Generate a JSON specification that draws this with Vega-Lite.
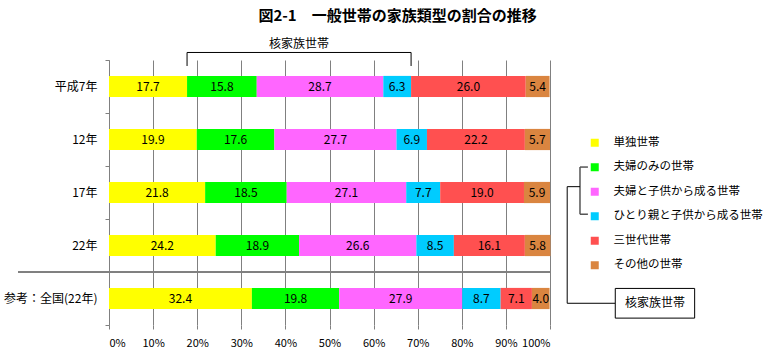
{
  "$schema": "https://vega.github.io/schema/vega-lite/v6.json",
  "width": 441,
  "height": 265,
  "autosize": {"type": "none"},
  "padding": {"left": 109, "top": 60, "right": 220, "bottom": 35},
  "background": "white",
  "title": {
    "text": "図2-1　一般世帯の家族類型の割合の推移",
    "font": "Noto Sans CJK JP",
    "fontSize": 15,
    "fontWeight": "bold",
    "color": "black",
    "anchor": "middle",
    "dx": 68,
    "offset": 14
  },
  "config": {"view": {"stroke": null}, "font": "Noto Sans CJK JP"},
  "datasets": {
    "shares": [
      {"year": "平成7年", "type": "単独世帯", "k": 1, "v": 17.7},
      {"year": "平成7年", "type": "夫婦のみの世帯", "k": 2, "v": 15.8},
      {"year": "平成7年", "type": "夫婦と子供から成る世帯", "k": 3, "v": 28.7},
      {"year": "平成7年", "type": "ひとり親と子供から成る世帯", "k": 4, "v": 6.3},
      {"year": "平成7年", "type": "三世代世帯", "k": 5, "v": 26.0},
      {"year": "平成7年", "type": "その他の世帯", "k": 6, "v": 5.4},
      {"year": "12年", "type": "単独世帯", "k": 1, "v": 19.9},
      {"year": "12年", "type": "夫婦のみの世帯", "k": 2, "v": 17.6},
      {"year": "12年", "type": "夫婦と子供から成る世帯", "k": 3, "v": 27.7},
      {"year": "12年", "type": "ひとり親と子供から成る世帯", "k": 4, "v": 6.9},
      {"year": "12年", "type": "三世代世帯", "k": 5, "v": 22.2},
      {"year": "12年", "type": "その他の世帯", "k": 6, "v": 5.7},
      {"year": "17年", "type": "単独世帯", "k": 1, "v": 21.8},
      {"year": "17年", "type": "夫婦のみの世帯", "k": 2, "v": 18.5},
      {"year": "17年", "type": "夫婦と子供から成る世帯", "k": 3, "v": 27.1},
      {"year": "17年", "type": "ひとり親と子供から成る世帯", "k": 4, "v": 7.7},
      {"year": "17年", "type": "三世代世帯", "k": 5, "v": 19.0},
      {"year": "17年", "type": "その他の世帯", "k": 6, "v": 5.9},
      {"year": "22年", "type": "単独世帯", "k": 1, "v": 24.2},
      {"year": "22年", "type": "夫婦のみの世帯", "k": 2, "v": 18.9},
      {"year": "22年", "type": "夫婦と子供から成る世帯", "k": 3, "v": 26.6},
      {"year": "22年", "type": "ひとり親と子供から成る世帯", "k": 4, "v": 8.5},
      {"year": "22年", "type": "三世代世帯", "k": 5, "v": 16.1},
      {"year": "22年", "type": "その他の世帯", "k": 6, "v": 5.8},
      {"year": "参考：全国(22年)", "type": "単独世帯", "k": 1, "v": 32.4},
      {"year": "参考：全国(22年)", "type": "夫婦のみの世帯", "k": 2, "v": 19.8},
      {"year": "参考：全国(22年)", "type": "夫婦と子供から成る世帯", "k": 3, "v": 27.9},
      {"year": "参考：全国(22年)", "type": "ひとり親と子供から成る世帯", "k": 4, "v": 8.7},
      {"year": "参考：全国(22年)", "type": "三世代世帯", "k": 5, "v": 7.1},
      {"year": "参考：全国(22年)", "type": "その他の世帯", "k": 6, "v": 4.0}
    ]
  },
  "layer": [
    {
      "data": {"name": "shares"},
      "layer": [
        {
          "transform": [
            {"stack": "v", "groupby": ["year"], "sort": [{"field": "k", "order": "ascending"}], "as": ["v0", "v1"]}
          ],
          "mark": {"type": "bar", "height": {"band": 0.4}},
          "encoding": {
            "y": {
              "field": "year", "type": "nominal", "title": null,
              "sort": ["平成7年", "12年", "17年", "22年", "参考：全国(22年)"],
              "scale": {"paddingInner": 0, "paddingOuter": 0},
              "axis": {
                "domainColor": "#808080", "tickColor": "#808080", "tickSize": 4,
                "tickBand": "extent", "labelFontSize": 12, "labelColor": "black",
                "labelPadding": 8, "labelFont": "Noto Sans CJK JP", "grid": false
              }
            },
            "x": {
              "field": "v0", "type": "quantitative", "title": null,
              "scale": {"domain": [0, 100], "nice": false},
              "axis": {
                "values": [0, 10, 20, 30, 40, 50, 60, 70, 80, 90, 100],
                "labelExpr": "datum.value + '%'",
                "grid": true, "gridColor": "#808080", "gridWidth": 1,
                "domain": false, "tickColor": "#808080", "tickSize": 4,
                "labelFontSize": 11, "labelColor": "black", "labelPadding": 8,
                "labelFont": "Noto Sans CJK JP"
              }
            },
            "x2": {"field": "v1"},
            "color": {
              "field": "type", "type": "nominal",
              "scale": {
                "domain": ["単独世帯", "夫婦のみの世帯", "夫婦と子供から成る世帯", "ひとり親と子供から成る世帯", "三世代世帯", "その他の世帯"],
                "range": ["#FFFF00", "#00FF00", "#FF66FF", "#00CCFF", "#FF5050", "#DA8540"]
              },
              "legend": {
                "orient": "none", "legendX": 480, "legendY": 77, "title": null,
                "symbolType": "square", "symbolSize": 64, "symbolStrokeWidth": 0,
                "labelFontSize": 11.5, "labelFont": "Noto Sans CJK JP", "labelColor": "black",
                "rowPadding": 11.5, "labelOffset": 13, "labelLimit": 220, "padding": 0
              }
            }
          }
        },
        {
          "transform": [
            {"stack": "v", "groupby": ["year"], "sort": [{"field": "k", "order": "ascending"}], "as": ["v0", "v1"]},
            {"fold": ["v0", "v1"], "as": ["side", "pos"]},
            {"aggregate": [{"op": "mean", "field": "pos", "as": "mid"}], "groupby": ["year", "type", "k", "v"]}
          ],
          "mark": {"type": "text", "fontSize": 12, "color": "black", "font": "Noto Sans CJK JP"},
          "encoding": {
            "y": {"field": "year", "type": "nominal", "title": null, "sort": ["平成7年", "12年", "17年", "22年", "参考：全国(22年)"]},
            "x": {"field": "mid", "type": "quantitative", "title": null, "scale": {"domain": [0, 100], "nice": false}},
            "text": {"field": "v", "type": "quantitative", "format": ".1f"}
          }
        },
        {
          "mark": {"type": "rule", "color": "#808080", "strokeWidth": 1},
          "encoding": {
            "y": {"datum": "参考：全国(22年)", "type": "nominal", "bandPosition": 0, "title": null},
            "x": {"datum": -20.6, "type": "quantitative", "title": null},
            "x2": {"datum": 100}
          }
        }
      ]
    },
    {
      "data": {"values": [{}]},
      "layer": [
        {
          "mark": {"type": "rule", "color": "black", "strokeWidth": 1},
          "encoding": {
            "x": {"datum": 17.7, "type": "quantitative", "title": null},
            "x2": {"datum": 68.5},
            "y": {"datum": -0.142, "type": "quantitative", "title": null, "axis": null, "scale": {"domain": [0, 5], "reverse": true, "nice": false, "zero": false}}
          }
        },
        {
          "mark": {"type": "rule", "color": "black", "strokeWidth": 1},
          "encoding": {
            "x": {"datum": 17.7, "type": "quantitative", "title": null},
            "y": {"datum": -0.142, "type": "quantitative", "title": null, "axis": null},
            "y2": {"datum": 0.113}
          }
        },
        {
          "mark": {"type": "rule", "color": "black", "strokeWidth": 1},
          "encoding": {
            "x": {"datum": 68.5, "type": "quantitative", "title": null},
            "y": {"datum": -0.142, "type": "quantitative", "title": null, "axis": null},
            "y2": {"datum": 0.113}
          }
        },
        {
          "mark": {"type": "text", "fontSize": 12, "color": "black", "font": "Noto Sans CJK JP", "text": "核家族世帯"},
          "encoding": {
            "x": {"datum": 43.1, "type": "quantitative", "title": null},
            "y": {"datum": -0.31, "type": "quantitative", "title": null, "axis": null}
          }
        },
        {
          "mark": {"type": "rule", "color": "#555555", "strokeWidth": 1.5},
          "encoding": {
            "x": {"datum": 106.8, "type": "quantitative", "title": null},
            "y": {"datum": 2.02, "type": "quantitative", "title": null, "axis": null},
            "y2": {"datum": 2.91}
          }
        },
        {
          "mark": {"type": "rule", "color": "#555555", "strokeWidth": 1.5},
          "encoding": {
            "x": {"datum": 106.8, "type": "quantitative", "title": null},
            "x2": {"datum": 108.6},
            "y": {"datum": 2.02, "type": "quantitative", "title": null, "axis": null}
          }
        },
        {
          "mark": {"type": "rule", "color": "#555555", "strokeWidth": 1.5},
          "encoding": {
            "x": {"datum": 106.8, "type": "quantitative", "title": null},
            "x2": {"datum": 108.6},
            "y": {"datum": 2.91, "type": "quantitative", "title": null, "axis": null}
          }
        },
        {
          "mark": {"type": "rule", "color": "black", "strokeWidth": 1},
          "encoding": {
            "x": {"datum": 103.9, "type": "quantitative", "title": null},
            "x2": {"datum": 106.8},
            "y": {"datum": 2.39, "type": "quantitative", "title": null, "axis": null}
          }
        },
        {
          "mark": {"type": "rule", "color": "black", "strokeWidth": 1},
          "encoding": {
            "x": {"datum": 103.9, "type": "quantitative", "title": null},
            "y": {"datum": 2.39, "type": "quantitative", "title": null, "axis": null},
            "y2": {"datum": 4.59}
          }
        },
        {
          "mark": {"type": "rule", "color": "black", "strokeWidth": 1},
          "encoding": {
            "x": {"datum": 103.9, "type": "quantitative", "title": null},
            "x2": {"datum": 114.8},
            "y": {"datum": 4.59, "type": "quantitative", "title": null, "axis": null}
          }
        },
        {
          "mark": {"type": "rect", "fill": "white", "stroke": "black", "strokeWidth": 1},
          "encoding": {
            "x": {"datum": 114.8, "type": "quantitative", "title": null},
            "x2": {"datum": 132.8},
            "y": {"datum": 4.31, "type": "quantitative", "title": null, "axis": null},
            "y2": {"datum": 4.87}
          }
        },
        {
          "mark": {"type": "text", "fontSize": 12, "color": "black", "font": "Noto Sans CJK JP", "text": "核家族世帯"},
          "encoding": {
            "x": {"datum": 123.8, "type": "quantitative", "title": null},
            "y": {"datum": 4.59, "type": "quantitative", "title": null, "axis": null}
          }
        }
      ]
    }
  ],
  "resolve": {"scale": {"y": "independent"}, "axis": {"y": "independent"}}
}
